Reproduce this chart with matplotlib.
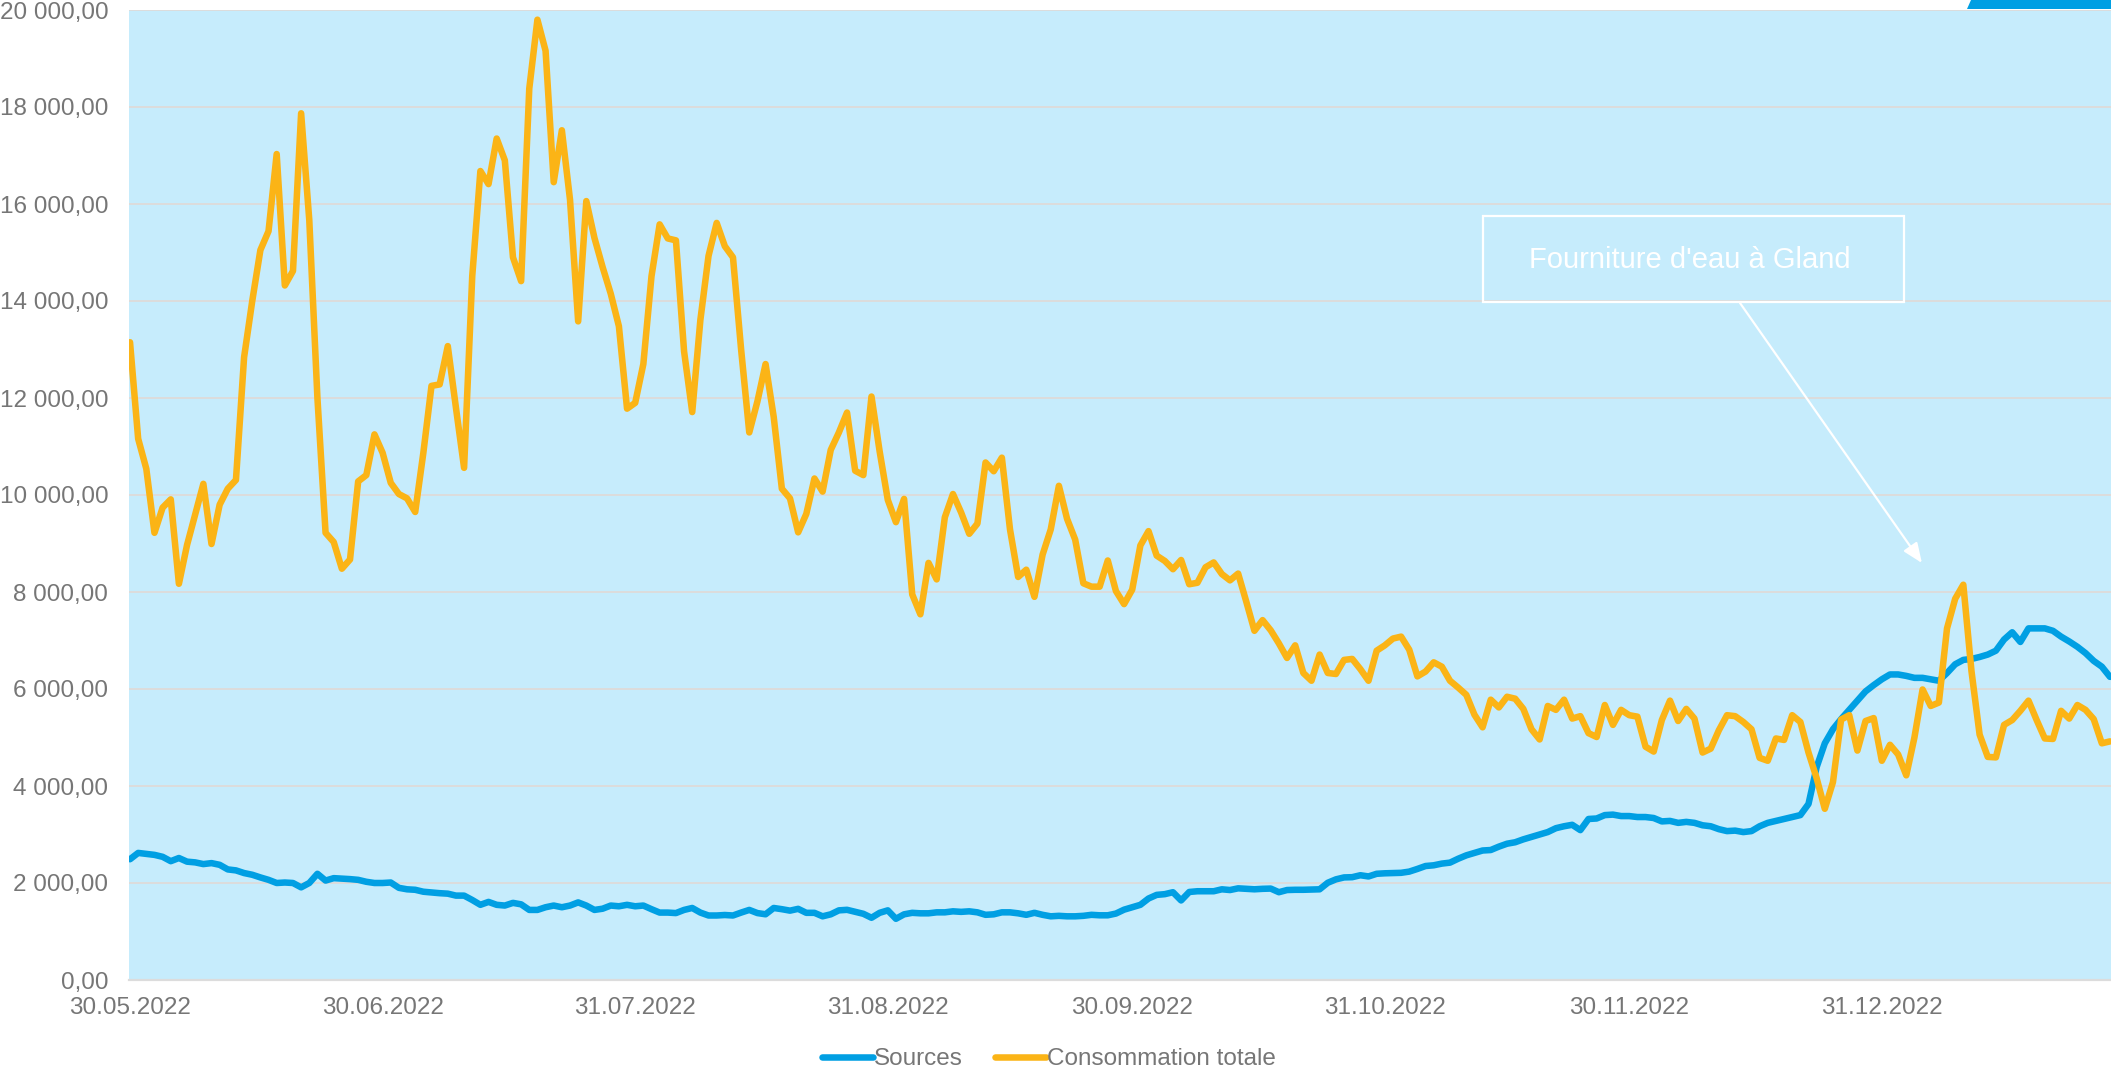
import numpy as np
import pandas as pd
import matplotlib
matplotlib.use('Agg')
import matplotlib.pyplot as plt
import matplotlib.dates as mdates
from matplotlib.ticker import FuncFormatter
from matplotlib.patches import Polygon, Rectangle

plt.rcParams['font.family'] = ['Liberation Sans', 'DejaVu Sans']

# daily values, starting 30.05.2022
start_date = '2022-05-30'

consommation = [
    13150, 11160, 10540, 9220, 9740, 9910, 8170, 8970, 9600, 10230,
    8990, 9800, 10130, 10310, 12840, 14000, 15050, 15440, 17030, 14320,
    14620, 17870, 15670, 12000, 9220, 9030, 8480, 8670, 10280, 10410,
    11250, 10870, 10250, 10020, 9930, 9650, 10870, 12250, 12280, 13070,
    11800, 10560, 14510, 16680, 16410, 17350, 16900, 14900, 14410, 18380,
    19800, 19160, 16450, 17520, 16090, 13580, 16060, 15300, 14700, 14150,
    13480, 11780, 11900, 12700, 14510, 15580, 15290, 15250, 12960, 11710,
    13610, 14930, 15610, 15130, 14900, 13000, 11290, 11930, 12700, 11610,
    10130, 9930, 9230, 9610, 10340, 10070, 10930, 11290, 11700, 10500,
    10410, 12030, 10900, 9900, 9440, 9920, 7950, 7540, 8600, 8260,
    9540, 10020, 9640, 9200, 9410, 10670, 10490, 10770, 9290, 8310,
    8460, 7900, 8770, 9290, 10190, 9510, 9080, 8180, 8110, 8110,
    8650, 8020, 7750, 8050, 8960, 9255, 8750, 8640, 8470, 8660,
    8160, 8190, 8510, 8610, 8370, 8240, 8380, 7800, 7200, 7420,
    7210, 6940, 6640, 6900, 6330, 6170, 6710, 6330, 6310, 6600,
    6620, 6410, 6170, 6790, 6900, 7040, 7080, 6810, 6260, 6360,
    6550, 6460, 6170, 6030, 5880, 5470, 5210, 5780, 5620, 5840,
    5800, 5590, 5170, 4960, 5650, 5570, 5780, 5390, 5440, 5090,
    5010, 5670, 5260, 5570, 5460, 5430, 4810, 4710, 5360, 5760,
    5340, 5590, 5390, 4690, 4770, 5150, 5460, 5440, 5320, 5170,
    4580, 4520, 4980, 4950, 5460, 5320, 4690, 4160, 3530, 4080,
    5370, 5460, 4730, 5340, 5400, 4520, 4850, 4650, 4220, 5000,
    5990, 5650, 5720, 7250, 7860, 8150, 6370, 5060, 4600, 4590,
    5260, 5360, 5550, 5760, 5360, 4980, 4970, 5550, 5390, 5670,
    5570, 5380, 4880, 4920,
]

sources = [
    2490, 2620, 2600, 2580, 2540, 2450, 2515, 2440, 2425, 2390,
    2410, 2375, 2280, 2260, 2205, 2170, 2115, 2065, 2000, 2010,
    2000, 1910, 2000, 2190, 2050, 2100, 2090, 2080, 2065, 2025,
    2000, 2000, 2010, 1900, 1870, 1860, 1820, 1805, 1790, 1780,
    1740, 1740, 1650, 1550, 1610, 1550, 1535, 1590, 1560, 1445,
    1445, 1500, 1535, 1500, 1535, 1600, 1535, 1445, 1470, 1535,
    1520, 1550, 1520, 1535, 1460, 1390, 1390, 1380, 1445, 1485,
    1390, 1330, 1330, 1340, 1330, 1390, 1445, 1380, 1355, 1485,
    1460, 1430, 1467, 1385, 1385, 1313, 1354, 1436, 1447, 1405,
    1365, 1283, 1385, 1436, 1262, 1354, 1385, 1375, 1375, 1395,
    1395, 1416, 1405, 1416, 1395, 1344, 1354, 1395, 1395, 1375,
    1344, 1385, 1344, 1313, 1323, 1313, 1313, 1323, 1344, 1334,
    1334, 1370, 1450, 1500, 1550, 1680, 1755, 1770, 1810, 1640,
    1815, 1830, 1830, 1830, 1870, 1855, 1890, 1880, 1870, 1880,
    1885, 1810, 1855, 1860, 1860, 1865, 1870, 2005, 2075, 2115,
    2120, 2160, 2135, 2190, 2200, 2205, 2210, 2235, 2290, 2350,
    2365, 2400, 2420, 2500, 2570, 2620, 2670, 2680, 2750, 2810,
    2840, 2900, 2950, 3000, 3050, 3130, 3170, 3200, 3090, 3320,
    3330, 3400, 3410, 3380, 3380, 3360, 3360, 3340, 3270, 3280,
    3240, 3260, 3240, 3190, 3170, 3110, 3070, 3080, 3050, 3070,
    3170, 3240, 3280, 3320, 3360, 3400, 3630, 4390, 4880, 5170,
    5380, 5570, 5760, 5950, 6080, 6200, 6300, 6300, 6270, 6230,
    6230, 6200, 6170, 6330, 6510, 6600, 6620, 6660, 6710, 6790,
    7020, 7170, 6970, 7250, 7250, 7250, 7200, 7080, 6980, 6870,
    6740, 6580, 6460, 6250,
]

tick_dates = ['2022-05-30', '2022-06-30', '2022-07-31', '2022-08-31',
              '2022-09-30', '2022-10-31', '2022-11-30', '2022-12-31']

dates = pd.date_range(start_date, periods=len(sources), freq='D')

blue = '#009FE3'
orange = '#FBB416'
grey = '#767676'

fig = plt.figure(figsize=[21.11, 10.73], dpi=100)
ax = fig.add_axes([129 / 2111, 93 / 1073, 1 - 129 / 2111, 970 / 1073])
ax.set_facecolor('#C6ECFC')

ax.plot(dates, sources, color=blue, lw=4.7, label='Sources',
        solid_capstyle='round', solid_joinstyle='round', zorder=3)
ax.plot(dates, consommation, color=orange, lw=4.7, label='Consommation totale',
        solid_capstyle='round', solid_joinstyle='round', zorder=3)

ax.set_ylim(0, 20000)
ax.set_yticks(np.arange(0, 20001, 2000))
ax.yaxis.set_major_formatter(FuncFormatter(
    lambda v, p: f'{v:,.2f}'.replace(',', ' ').replace('.', ',')))
ax.set_xlim(dates[0] - pd.Timedelta(hours=3), dates[-1] + pd.Timedelta(hours=3))
ax.set_xticks(pd.to_datetime(tick_dates))
ax.xaxis.set_major_formatter(mdates.DateFormatter('%d.%m.%Y'))

ax.grid(axis='y', color='#DCDCDC', lw=1.4, zorder=1)
ax.set_axisbelow(True)
for s in ['left', 'right', 'top']:
    ax.spines[s].set_visible(False)
ax.spines['bottom'].set_color('#DCDCDC')
ax.spines['bottom'].set_linewidth(1.6)
ax.tick_params(length=0, labelsize=17.5, labelcolor=grey)
ax.tick_params(axis='y', pad=15)
ax.tick_params(axis='x', pad=12)

# text box with arrow
ax.add_patch(Rectangle((0.6832, 0.699), 0.2124, 0.0886, transform=ax.transAxes,
                       fill=False, edgecolor='white', lw=1.6, zorder=4))
ax.text(0.7876, 0.7423, "Fourniture d'eau à Gland", transform=ax.transAxes,
        ha='center', va='center', color='white', fontsize=21, zorder=4)
ax.annotate('', xy=(0.9046, 0.4299), xycoords='axes fraction',
            xytext=(0.8128, 0.698), textcoords='axes fraction',
            arrowprops=dict(arrowstyle='-|>,head_length=1.2,head_width=0.5',
                            color='white', lw=1.6, shrinkA=0, shrinkB=0),
            zorder=4)

leg = ax.legend(loc='center', bbox_to_anchor=(1049 / 2111, 1 - 1059 / 1073),
                bbox_transform=fig.transFigure, ncol=2, frameon=False,
                fontsize=17.5, handlelength=2.1, handletextpad=0.05,
                columnspacing=1.3)
for t in leg.get_texts():
    t.set_color(grey)

# blue tab in the top right corner
fig.patches.append(Polygon([(1967 / 2111, 1 - 9 / 1073), (1971 / 2111, 1.0),
                            (1.0, 1.0), (1.0, 1 - 9 / 1073)], closed=True,
                           transform=fig.transFigure, facecolor=blue,
                           edgecolor='none'))

fig.savefig('out.png', dpi=100)
